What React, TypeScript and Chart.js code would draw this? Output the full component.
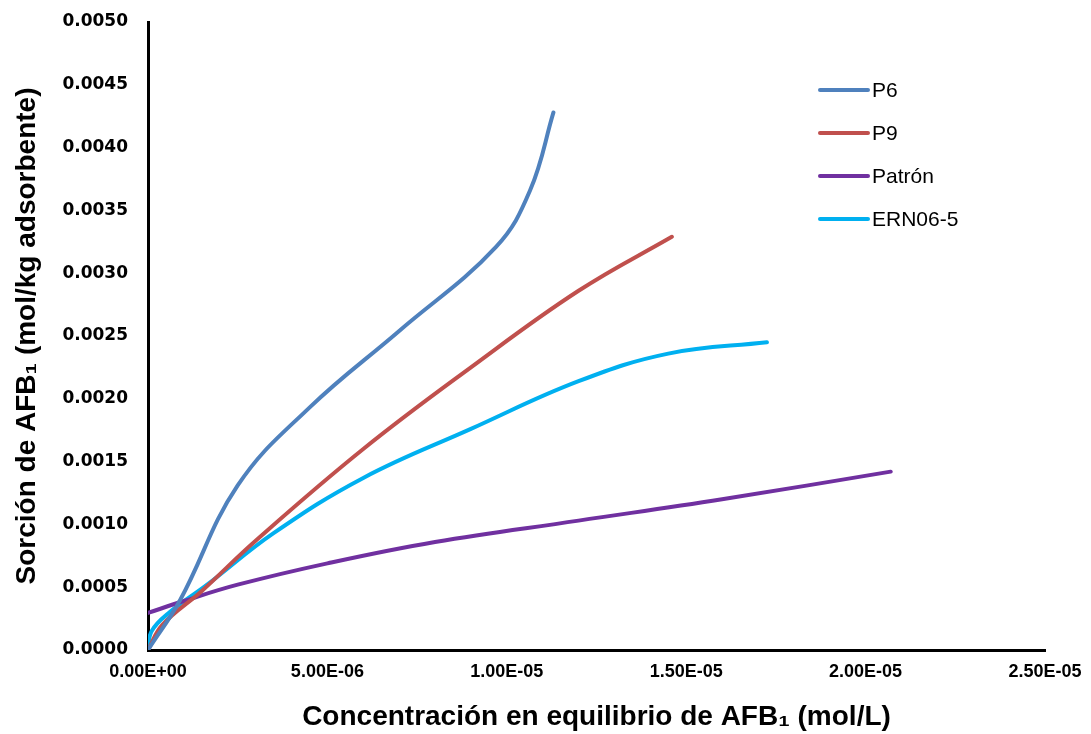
import React, { useEffect, useRef } from "react";
import { Chart, registerables } from "chart.js";

Chart.register(...registerables);

const seriesNames = ["P6", "P9", "Patrón", "ERN06-5"];
const seriesColors = ["#4F81BD", "#C0504D", "#7030A0", "#00B0F0"];

const p6X = [0, 0.9e-6, 2.5e-6, 4.5e-6, 7.0e-6, 9.7e-6, 1.065e-5, 1.13e-5];
const p6Y = [0, 0.0004, 0.00131, 0.00193, 0.00254, 0.00321, 0.00366, 0.00428];

const p9X = [0, 0.4e-6, 1.5e-6, 3.0e-6, 6.0e-6, 9.0e-6, 1.2e-5, 1.46e-5];
const p9Y = [0, 0.0002, 0.00047, 0.00087, 0.0016, 0.00225, 0.00286, 0.00329];

const patronX = [0, 1.0e-6, 2.5e-6, 5.0e-6, 8.0e-6, 1.2e-5, 1.6e-5, 2.07e-5];
const patronY = [0.000295, 0.00039, 0.00052, 0.00069, 0.00086, 0.00103, 0.0012, 0.00142];

const ernX = [0, 0.1e-6, 0.6e-6, 1.65e-6, 3.5e-6, 6.0e-6, 9.0e-6, 1.2e-5, 1.45e-5, 1.725e-5];
const ernY = [0, 0.00015, 0.0003, 0.00052, 0.00093, 0.00137, 0.00176, 0.00214, 0.00236, 0.00245];

const xMin = 0;
const xMax = 2.5e-5;
const xStep = 5e-6;
const yMin = 0;
const yMax = 0.005;
const yStep = 0.0005;

const xTitle = "Concentración en equilibrio de AFB₁ (mol/L)";
const yTitle = "Sorción de AFB₁ (mol/kg adsorbente)";

function fmtExp(v: number): string {
  if (Math.abs(v) < 1e-15) return "0.00E+00";
  let exp = Math.floor(Math.log10(Math.abs(v)));
  let m = (v / Math.pow(10, exp)).toFixed(2);
  if (m === "10.00") {
    exp += 1;
    m = (v / Math.pow(10, exp)).toFixed(2);
  }
  const sign = exp < 0 ? "-" : "+";
  const e = Math.abs(exp).toString().padStart(2, "0");
  return `${m}E${sign}${e}`;
}

function toPoints(xs: number[], ys: number[]) {
  return xs.map((x, i) => ({ x, y: ys[i] }));
}

const legendPlugin = {
  id: "customLegend",
  afterDraw(chart: any) {
    const ctx = chart.ctx;
    const startX = 820;
    const lineLen = 48;
    const startY = 90;
    const gap = 43;
    ctx.save();
    chart.data.datasets.forEach((ds: any, i: number) => {
      const y = startY + i * gap;
      ctx.strokeStyle = ds.borderColor;
      ctx.lineWidth = 4;
      ctx.lineCap = "round";
      ctx.beginPath();
      ctx.moveTo(startX, y);
      ctx.lineTo(startX + lineLen, y);
      ctx.stroke();
      ctx.fillStyle = "#000";
      ctx.font = "21px 'Liberation Sans', Arial, sans-serif";
      ctx.textBaseline = "middle";
      ctx.textAlign = "left";
      ctx.fillText(ds.label, startX + lineLen + 4, y + 1);
    });
    ctx.restore();
  },
};

export default function App() {
  const canvasRef = useRef<HTMLCanvasElement | null>(null);

  useEffect(() => {
    if (!canvasRef.current) return;
    const allX = [p6X, p9X, patronX, ernX];
    const allY = [p6Y, p9Y, patronY, ernY];
    const chart = new Chart(canvasRef.current, {
      type: "line",
      data: {
        datasets: seriesNames.map((name, i) => ({
          label: name,
          data: toPoints(allX[i], allY[i]),
          borderColor: seriesColors[i],
          backgroundColor: seriesColors[i],
          borderWidth: 4,
          borderCapStyle: "round",
          borderJoinStyle: "round",
          pointRadius: 0,
          pointHoverRadius: 0,
          fill: false,
          tension: 0.4,
        })),
      },
      options: {
        animation: false,
        responsive: true,
        maintainAspectRatio: false,
        layout: { padding: { left: 0, top: 22, right: 46, bottom: 0 } },
        plugins: {
          legend: { display: false },
          tooltip: { enabled: false },
        },
        scales: {
          x: {
            type: "linear",
            min: xMin,
            max: xMax,
            grid: { display: false, drawTicks: true, tickLength: 9 },
            border: { display: true, color: "#000", width: 3 },
            ticks: {
              stepSize: xStep,
              color: "#000",
              padding: 2,
              maxRotation: 0,
              font: { family: "'Liberation Sans', Arial, sans-serif", size: 18, weight: "bold" },
              callback: (v: any) => fmtExp(Number(v)),
            },
            title: {
              display: true,
              text: xTitle,
              color: "#000",
              padding: { top: 0, bottom: 0 },
              font: { family: "'Liberation Sans', Arial, sans-serif", size: 28, weight: "bold" },
            },
            afterFit: (scale: any) => {
              scale.height = 84;
            },
          },
          y: {
            type: "linear",
            min: yMin,
            max: yMax,
            grid: { display: false, drawTicks: true, tickLength: 18 },
            border: { display: true, color: "#000", width: 3 },
            ticks: {
              stepSize: yStep,
              color: "#000",
              padding: 2,
              font: { family: "'DejaVu Sans', Verdana, sans-serif", size: 17, weight: "bold" },
              callback: (v: any) => Number(v).toFixed(4),
            },
            title: {
              display: true,
              text: yTitle,
              color: "#000",
              padding: { top: 10, bottom: 4 },
              font: { family: "'Liberation Sans', Arial, sans-serif", size: 28, weight: "bold" },
            },
            afterFit: (scale: any) => {
              scale.width = 148;
            },
          },
        },
      },
      plugins: [legendPlugin],
    } as any);
    return () => chart.destroy();
  }, []);

  return (
    <div style={{ position: "fixed", left: 0, top: 0, width: 1091, height: 734, background: "#fff" }}>
      <canvas ref={canvasRef} />
    </div>
  );
}
